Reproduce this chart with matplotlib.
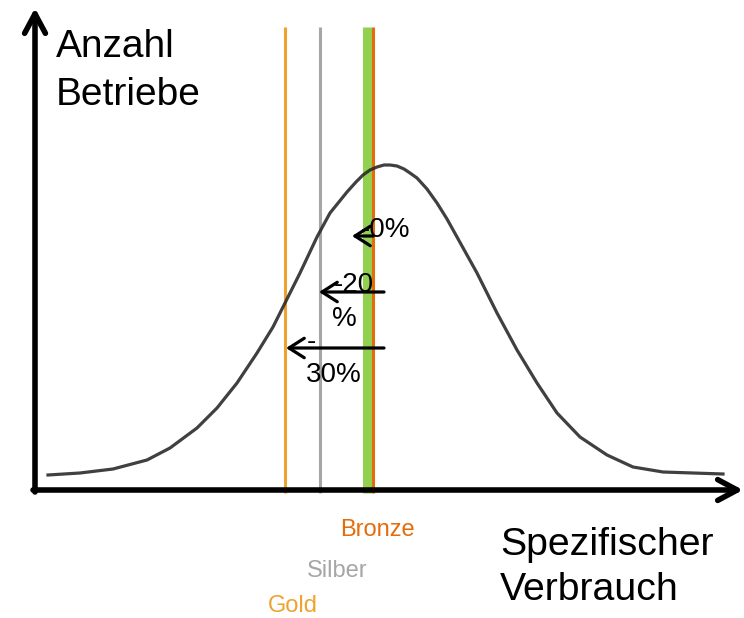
import matplotlib
matplotlib.use("Agg")
import matplotlib.pyplot as plt

plt.rcParams["font.family"] = ["Liberation Sans", "DejaVu Sans"]

# bell curve (x, y in picture units, y grows downwards)
curve_x = [48, 80, 113, 147, 170, 197, 217, 237, 257, 273, 285, 300, 317, 330,
           347, 356, 363, 370, 377, 384, 390, 397, 404, 410, 417, 427, 437, 447,
           457, 477, 497, 517, 537, 557, 580, 607, 633, 663, 723]
curve_y = [475, 473, 469, 460, 448, 428, 408, 383, 353, 327, 303, 273, 237, 213,
           192, 182, 175, 170, 167, 165, 165, 166, 169, 173, 178, 189, 203, 219,
           237, 273, 313, 350, 383, 413, 437, 455, 467, 472, 474]

# thresholds on the consumption axis
level_names = ["Gold", "Silber", "Bronze"]
level_x = [285, 320, 373]
level_colors = ["#f0a22e", "#a6a6a6", "#e46c0a"]
level_label_x = [293, 337, 377]
level_label_y = [612, 577, 536]
green_x = 367

# reduction arrows: tip, tail, height
red_tip = [352, 319, 286]
red_tail = [373, 384, 384]
red_y = [236, 292, 348]

fig = plt.figure(figsize=(7.44, 6.18), dpi=100)
ax = fig.add_axes([0, 0, 1, 1])
ax.set_xlim(0, 744)
ax.set_ylim(618, 0)
ax.axis("off")

# vertical threshold lines
ax.plot([green_x, green_x], [27, 493], color="#92d050", lw=6.5, solid_capstyle="butt", zorder=2)
for x, c in zip(level_x, level_colors):
    ax.plot([x, x], [27, 493], color=c, lw=2.2, solid_capstyle="butt", zorder=2)

ax.plot(curve_x, curve_y, color="#2b2b2b", lw=2.3, zorder=3, alpha=0.9,
        solid_joinstyle="round")

# axes arrows
axis_head = "->,head_length=1.4,head_width=0.75"
ax.annotate("", xy=(35, 8), xytext=(35, 492),
            arrowprops=dict(arrowstyle=axis_head, lw=4.0, color="black",
                            shrinkA=0, shrinkB=0))
ax.annotate("", xy=(743, 490), xytext=(33, 490),
            arrowprops=dict(arrowstyle=axis_head, lw=4.0, color="black",
                            shrinkA=0, shrinkB=0))

for tip, tail, y in zip(red_tip, red_tail, red_y):
    ax.annotate("", xy=(tip, y), xytext=(tail, y),
                arrowprops=dict(arrowstyle="->,head_length=1.1,head_width=0.7", lw=2.3,
                                color="black", shrinkA=0, shrinkB=0), zorder=4)

ax.text(56, 57, "Anzahl", fontsize=28, va="baseline", ha="left")
ax.text(56, 105, "Betriebe", fontsize=28, va="baseline", ha="left")
ax.text(500, 555, "Spezifischer", fontsize=28.3, va="baseline", ha="left")
ax.text(500, 600, "Verbrauch", fontsize=28.3, va="baseline", ha="left")

pct = dict(fontsize=20, va="baseline", zorder=5)
ax.text(361, 237, "-0%", ha="left", **pct)
ax.text(354, 292, "-20", ha="center", **pct)
ax.text(344, 326, "%", ha="center", **pct)
ax.text(311, 349, "-", ha="center", **pct)
ax.text(334, 382, "30%", ha="center", **pct)

for name, c, lx, ly in zip(level_names, level_colors, level_label_x, level_label_y):
    ax.text(lx, ly, name, fontsize=17, color=c, ha="center", va="baseline")

fig.savefig("out.png", dpi=100)
